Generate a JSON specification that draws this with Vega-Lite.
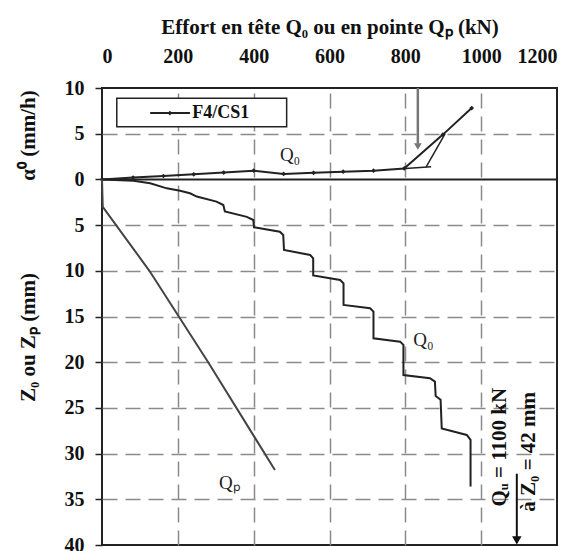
{
  "$schema": "https://vega.github.io/schema/vega-lite/v6.json",
  "width": 455,
  "height": 457,
  "autosize": "none",
  "padding": {"left": 102, "top": 88, "right": 25, "bottom": 6},
  "background": "white",
  "config": {
    "view": {"stroke": "#222", "strokeWidth": 2},
    "axis": {
      "labelFont": "Liberation Serif",
      "labelFontWeight": "bold",
      "labelFontSize": 20,
      "labelColor": "#111",
      "titleFont": "Liberation Serif",
      "titleFontWeight": "bold",
      "titleFontSize": 21,
      "titleColor": "#111"
    }
  },
  "datasets": {
    "alpha": [
      {"q": 0, "a": 0}, {"q": 82, "a": 0.2}, {"q": 162, "a": 0.37}, {"q": 242, "a": 0.55},
      {"q": 321, "a": 0.75}, {"q": 400, "a": 0.95}, {"q": 479, "a": 0.6}, {"q": 558, "a": 0.72},
      {"q": 636, "a": 0.85}, {"q": 716, "a": 0.95}, {"q": 797, "a": 1.2}, {"q": 899, "a": 4.9},
      {"q": 975, "a": 7.8}
    ],
    "z0": [
      {"q": 0, "z": 0}, {"q": 83, "z": -0.14}, {"q": 127, "z": -0.43}, {"q": 171, "z": -0.98},
      {"q": 206, "z": -1.24}, {"q": 232, "z": -1.52}, {"q": 250, "z": -1.88}, {"q": 302, "z": -2.43},
      {"q": 320, "z": -2.8}, {"q": 324, "z": -3.5}, {"q": 382, "z": -4.1}, {"q": 399, "z": -4.44},
      {"q": 401, "z": -5.24}, {"q": 469, "z": -5.72}, {"q": 478, "z": -6.08}, {"q": 480, "z": -7.72},
      {"q": 549, "z": -8.27}, {"q": 557, "z": -8.63}, {"q": 557, "z": -10.5}, {"q": 601, "z": -10.82},
      {"q": 628, "z": -11.0}, {"q": 637, "z": -11.37}, {"q": 637, "z": -13.74}, {"q": 707, "z": -14.1},
      {"q": 716, "z": -14.47}, {"q": 716, "z": -17.39}, {"q": 786, "z": -17.75}, {"q": 795, "z": -18.1},
      {"q": 795, "z": -21.4}, {"q": 865, "z": -21.76}, {"q": 878, "z": -22.12}, {"q": 880, "z": -23.7},
      {"q": 893, "z": -24.1}, {"q": 896, "z": -27.24}, {"q": 962, "z": -27.96}, {"q": 972, "z": -28.5},
      {"q": 972, "z": -33.6}
    ],
    "zp": [
      {"q": 0, "z": 0}, {"q": 2, "z": -3.0}, {"q": 125, "z": -10},
      {"q": 280, "z": -20}, {"q": 456, "z": -31.8}
    ],
    "constr": [
      {"g": "h", "q": 800, "y": 1.2}, {"g": "h", "q": 868, "y": 1.38},
      {"g": "t", "q": 855, "y": 1.38}, {"g": "t", "q": 905, "y": 5.0}
    ],
    "labels": [
      {"q": 496, "y": 2.67, "t": "Q₀"},
      {"q": 848, "y": -17.6, "t": "Q₀"},
      {"q": 337, "y": -33.2, "t": "Qₚ"}
    ],
    "qu": [
      {"q": 1050, "y": -29.3, "t": "Qᵤ = 1100 kN"},
      {"q": 1125, "y": -29.8, "t": "à Z₀ = 42 mm"}
    ],
    "quarrow": [{"q": 1094, "y1": -32.2, "y2": -39.3, "tip": -39.5}],
    "arrow": [{"q": 833, "y1": 10, "y2": 3.9, "tip": 3.6}],
    "legend": [{"q1": 39, "q2": 487, "y1": 5.77, "y2": 8.87, "lq1": 127, "lq2": 232, "mq": 179, "tq": 238, "ly": 7.26, "t": "F4/CS1"}]
  },
  "layer": [
    {
      "data": {"name": "alpha"},
      "mark": {"type": "line", "color": "#222", "strokeWidth": 2},
      "encoding": {
        "x": {
          "field": "q", "type": "quantitative",
          "scale": {"domain": [0, 1200], "nice": false},
          "axis": {
            "orient": "top",
            "title": "Effort en tête Q₀ ou en pointe Qₚ (kN)",
            "values": [0, 200, 400, 600, 800, 1000, 1200],
            "format": "d",
            "ticks": false,
            "domain": false,
            "labelPadding": 22,
            "titlePadding": 9,
            "grid": true,
            "gridColor": "#8a8a8a",
            "gridWidth": 1.5,
            "gridDash": [15, 8],
            "gridOpacity": {"condition": {"test": "datum.value == 0 || datum.value == 1200", "value": 0}, "value": 1}
          }
        },
        "y": {
          "field": "a", "type": "quantitative",
          "scale": {"domain": [-40, 10], "nice": false},
          "axis": {
            "orient": "left",
            "title": "Z₀ ou Zₚ (mm)",
            "titleX": -74,
            "titleY": 249,
            "titleAngle": 270,
            "titleAlign": "center",
            "titleBaseline": "middle",
            "values": [10, 5, 0, -5, -10, -15, -20, -25, -30, -35, -40],
            "labelExpr": "abs(datum.value)",
            "ticks": true,
            "tickSize": 7,
            "tickWidth": 1.5,
            "tickColor": "#222",
            "labelPadding": 11,
            "domain": false,
            "grid": true,
            "gridColor": {"condition": {"test": "datum.value == 0", "value": "#222"}, "value": "#8a8a8a"},
            "gridWidth": {"condition": {"test": "datum.value == 0", "value": 2}, "value": 1.5},
            "gridDash": {"condition": {"test": "datum.value == 0", "value": []}, "value": [15, 8]},
            "gridOpacity": {"condition": {"test": "datum.value == 10 || datum.value == -40", "value": 0}, "value": 1}
          }
        }
      }
    },
    {
      "data": {"name": "alpha"},
      "mark": {"type": "point", "shape": "diamond", "filled": true, "size": 22, "color": "#222", "opacity": 1},
      "encoding": {
        "x": {"field": "q", "type": "quantitative"},
        "y": {"field": "a", "type": "quantitative", "axis": null}
      }
    },
    {
      "data": {"name": "z0"},
      "mark": {"type": "line", "color": "#222", "strokeWidth": 2},
      "encoding": {
        "x": {"field": "q", "type": "quantitative"},
        "y": {"field": "z", "type": "quantitative", "axis": null},
        "order": {"value": 0}
      }
    },
    {
      "data": {"name": "zp"},
      "mark": {"type": "line", "color": "#444", "strokeWidth": 2},
      "encoding": {
        "x": {"field": "q", "type": "quantitative"},
        "y": {"field": "z", "type": "quantitative", "axis": null}
      }
    },
    {
      "data": {"name": "constr"},
      "mark": {"type": "line", "color": "#222", "strokeWidth": 1.5},
      "encoding": {
        "x": {"field": "q", "type": "quantitative"},
        "y": {"field": "y", "type": "quantitative", "axis": null},
        "detail": {"field": "g"}
      }
    },
    {
      "data": {"name": "arrow"},
      "mark": {"type": "rule", "color": "#777", "strokeWidth": 2.5},
      "encoding": {
        "x": {"field": "q", "type": "quantitative"},
        "y": {"field": "y1", "type": "quantitative", "axis": null},
        "y2": {"field": "y2"}
      }
    },
    {
      "data": {"name": "arrow"},
      "mark": {"type": "point", "shape": "triangle-down", "filled": true, "size": 60, "color": "#777", "opacity": 1},
      "encoding": {
        "x": {"field": "q", "type": "quantitative"},
        "y": {"field": "tip", "type": "quantitative", "axis": null}
      }
    },
    {
      "data": {"name": "legend"},
      "mark": {"type": "rect", "fill": "white", "stroke": "#222", "strokeWidth": 1.5},
      "encoding": {
        "x": {"field": "q1", "type": "quantitative"},
        "x2": {"field": "q2"},
        "y": {
          "field": "y1", "type": "quantitative",
          "axis": {
            "orient": "left",
            "title": "α⁰ (mm/h)",
            "titleX": -74,
            "titleY": 47,
            "titleAngle": 270,
            "titleAlign": "center",
            "titleBaseline": "middle",
            "labels": false,
            "ticks": false,
            "domain": false,
            "grid": false
          }
        },
        "y2": {"field": "y2"}
      }
    },
    {
      "data": {"name": "legend"},
      "mark": {"type": "rule", "color": "#222", "strokeWidth": 2},
      "encoding": {
        "x": {"field": "lq1", "type": "quantitative"},
        "x2": {"field": "lq2"},
        "y": {"field": "ly", "type": "quantitative", "axis": null}
      }
    },
    {
      "data": {"name": "legend"},
      "mark": {"type": "point", "shape": "diamond", "filled": true, "size": 22, "color": "#222", "opacity": 1},
      "encoding": {
        "x": {"field": "mq", "type": "quantitative"},
        "y": {"field": "ly", "type": "quantitative", "axis": null}
      }
    },
    {
      "data": {"name": "legend"},
      "mark": {"type": "text", "font": "Liberation Serif", "fontWeight": "bold", "fontSize": 18, "align": "left", "baseline": "middle", "color": "#111"},
      "encoding": {
        "x": {"field": "tq", "type": "quantitative"},
        "y": {"field": "ly", "type": "quantitative", "axis": null},
        "text": {"field": "t"}
      }
    },
    {
      "data": {"name": "labels"},
      "mark": {"type": "text", "font": "Liberation Serif", "fontSize": 19, "align": "center", "baseline": "middle", "color": "#222"},
      "encoding": {
        "x": {"field": "q", "type": "quantitative"},
        "y": {"field": "y", "type": "quantitative", "axis": null},
        "text": {"field": "t"}
      }
    },
    {
      "data": {"name": "qu"},
      "mark": {"type": "text", "font": "Liberation Serif", "fontWeight": "bold", "fontSize": 21, "angle": 270, "align": "center", "baseline": "middle", "color": "#111"},
      "encoding": {
        "x": {"field": "q", "type": "quantitative"},
        "y": {"field": "y", "type": "quantitative", "axis": null},
        "text": {"field": "t"}
      }
    },
    {
      "data": {"name": "quarrow"},
      "mark": {"type": "rule", "color": "#111", "strokeWidth": 2},
      "encoding": {
        "x": {"field": "q", "type": "quantitative"},
        "y": {"field": "y1", "type": "quantitative", "axis": null},
        "y2": {"field": "y2"}
      }
    },
    {
      "data": {"name": "quarrow"},
      "mark": {"type": "point", "shape": "triangle-down", "filled": true, "size": 90, "color": "#111", "opacity": 1},
      "encoding": {
        "x": {"field": "q", "type": "quantitative"},
        "y": {"field": "tip", "type": "quantitative", "axis": null}
      }
    }
  ],
  "resolve": {"axis": {"y": "independent"}}
}
